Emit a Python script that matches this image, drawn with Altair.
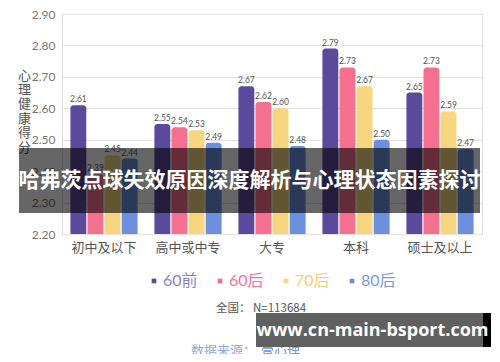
import altair as alt
import pandas as pd

# ---- data ----
categories = ["初中及以下", "高中或中专", "大专", "本科", "硕士及以上"]
series = ["60前", "60后", "70后", "80后"]
vals_60q = [2.61, 2.55, 2.67, 2.79, 2.65]
vals_60h = [2.39, 2.54, 2.62, 2.73, 2.73]
vals_70h = [2.45, 2.53, 2.60, 2.67, 2.59]
vals_80h = [2.44, 2.49, 2.48, 2.50, 2.47]
y_ticks = [2.2, 2.3, 2.4, 2.5, 2.6, 2.7, 2.8, 2.9]

y_title = ["心", "理", "健", "康", "得", "分"]
note_text = "全国： N=113684"
source_label = "数据来源："
source_name = "壹心理"
banner_text = "哈弗茨点球失效原因深度解析与心理状态因素探讨"
watermark_text = "www.cn-main-bsport.com"

bar_colors = ["#5a4a9c", "#f56f8f", "#f8d67f", "#6b90dd"]
legend_label_colors = ["#8c7fca", "#f5739a", "#f2cf72", "#7a9ae0"]

rows = []
for s, vals in zip(series, [vals_60q, vals_60h, vals_70h, vals_80h]):
    for c, v in zip(categories, vals):
        rows.append({"edu": c, "gen": s, "score": v})
df = pd.DataFrame(rows)

FONT = "Lato, 'Noto Sans CJK SC', sans-serif"
CJK = "'Noto Sans CJK SC', sans-serif"

label_color_expr = " : ".join(
    [f"datum.label == '{s}' ? '{c}'" for s, c in zip(series[:-1], legend_label_colors[:-1])]
) + f" : '{legend_label_colors[-1]}'"

x_enc = alt.X(
    "edu:N", sort=categories,
    scale=alt.Scale(paddingInner=0.2, paddingOuter=0.1),
    axis=alt.Axis(title=None, labelAngle=0, labelFontSize=13, labelColor="#555",
                  labelPadding=7, ticks=False, domain=False, labelFont=CJK, grid=False),
)
xo_enc = alt.XOffset("gen:N", sort=series, scale=alt.Scale(paddingInner=0.07, paddingOuter=0))
y_enc = alt.Y(
    "score:Q",
    scale=alt.Scale(domain=[2.2, 2.9], zero=False, nice=False),
    axis=alt.Axis(values=y_ticks, format=".2f", title=y_title, titleAngle=0,
                  titleX=-38, titleY=61, titleAlign="center", titleBaseline="middle",
                  titleFontSize=13, titleFontWeight="normal", titleColor="#555",
                  titleLineHeight=14.4, titleFont=CJK,
                  labelFontSize=12, labelColor="#777", labelPadding=7, labelFont=FONT,
                  labelOverlap=False, labelBound=False,
                  ticks=False, domain=False, grid=True, gridColor="#e2e2e2",
                  gridWidth=1, gridOpacity=1),
)

bars = alt.Chart(df).mark_bar(cornerRadiusTopLeft=3, cornerRadiusTopRight=3).encode(
    x=x_enc, xOffset=xo_enc, y=y_enc, y2=alt.datum(2.2),
    color=alt.Color(
        "gen:N", sort=series, scale=alt.Scale(domain=series, range=bar_colors),
        legend=alt.Legend(title=None, orient="none", legendX=84, legendY=259,
                          direction="horizontal", symbolType="square", symbolSize=22,
                          symbolStrokeWidth=0, labelFontSize=16, labelFont=FONT,
                          labelColor=alt.ExprRef(label_color_expr),
                          columnPadding=14, labelOffset=1, padding=0),
    ),
)

labels = alt.Chart(df).mark_text(baseline="bottom", dy=-1, fontSize=8.5, color="#555", font=FONT).encode(
    x=x_enc, xOffset=xo_enc, y=y_enc,
    text=alt.Text("score:Q", format=".2f"),
)

note = alt.Chart(pd.DataFrame({"t": [note_text]})).mark_text(
    fontSize=11.5, color="#555", font=CJK, align="center", baseline="middle"
).encode(x=alt.value(199), y=alt.value(295), text="t:N")

src1 = alt.Chart(pd.DataFrame({"t": [source_label]})).mark_text(
    fontSize=13, color="#8eaae8", font=CJK, align="right", baseline="middle"
).encode(x=alt.value(194), y=alt.value(336.5), text="t:N")
src2 = alt.Chart(pd.DataFrame({"t": [source_name]})).mark_text(
    fontSize=13, color="#6b8fd8", font=CJK, align="left", baseline="middle"
).encode(x=alt.value(199), y=alt.value(336.5), text="t:N")

banner_rect = alt.Chart(pd.DataFrame({"t": [banner_text]})).mark_rect(color="#000", opacity=0.6).encode(
    x=alt.value(-43), x2=alt.value(418), y=alt.value(134), y2=alt.value(199))
banner_txt = alt.Chart(pd.DataFrame({"t": [banner_text]})).mark_text(
    fontSize=21, fontWeight="bold", color="#fff", font=CJK, align="center", baseline="middle"
).encode(x=alt.value(187.5), y=alt.value(166.5), text="t:N")

wm_rect = alt.Chart(pd.DataFrame({"t": [watermark_text]})).mark_rect(color="#606060").encode(
    x=alt.value(194), x2=alt.value(421), y=alt.value(299), y2=alt.value(333))
wm_strip = alt.Chart(pd.DataFrame({"t": [watermark_text]})).mark_rect(color="#000").encode(
    x=alt.value(421), x2=alt.value(429), y=alt.value(299), y2=alt.value(333))
wm_txt = alt.Chart(pd.DataFrame({"t": [watermark_text]})).mark_text(
    fontSize=18, fontWeight="bold", color="#fff", font="'Open Sans', 'DejaVu Sans', sans-serif",
    align="center", baseline="middle"
).encode(x=alt.value(310.5), y=alt.value(316.5), text="t:N")

chart = alt.layer(
    bars, labels, note, src1, src2, banner_rect, banner_txt, wm_rect, wm_strip, wm_txt
).properties(
    width=420, height=220,
    autosize=alt.AutoSizeParams(type="none"),
    padding={"left": 54, "top": 6, "right": 10, "bottom": 120},
).configure_view(stroke=None).configure(background="#ffffff")

chart.save("out.html", embed_options={"renderer": "svg", "actions": False})
